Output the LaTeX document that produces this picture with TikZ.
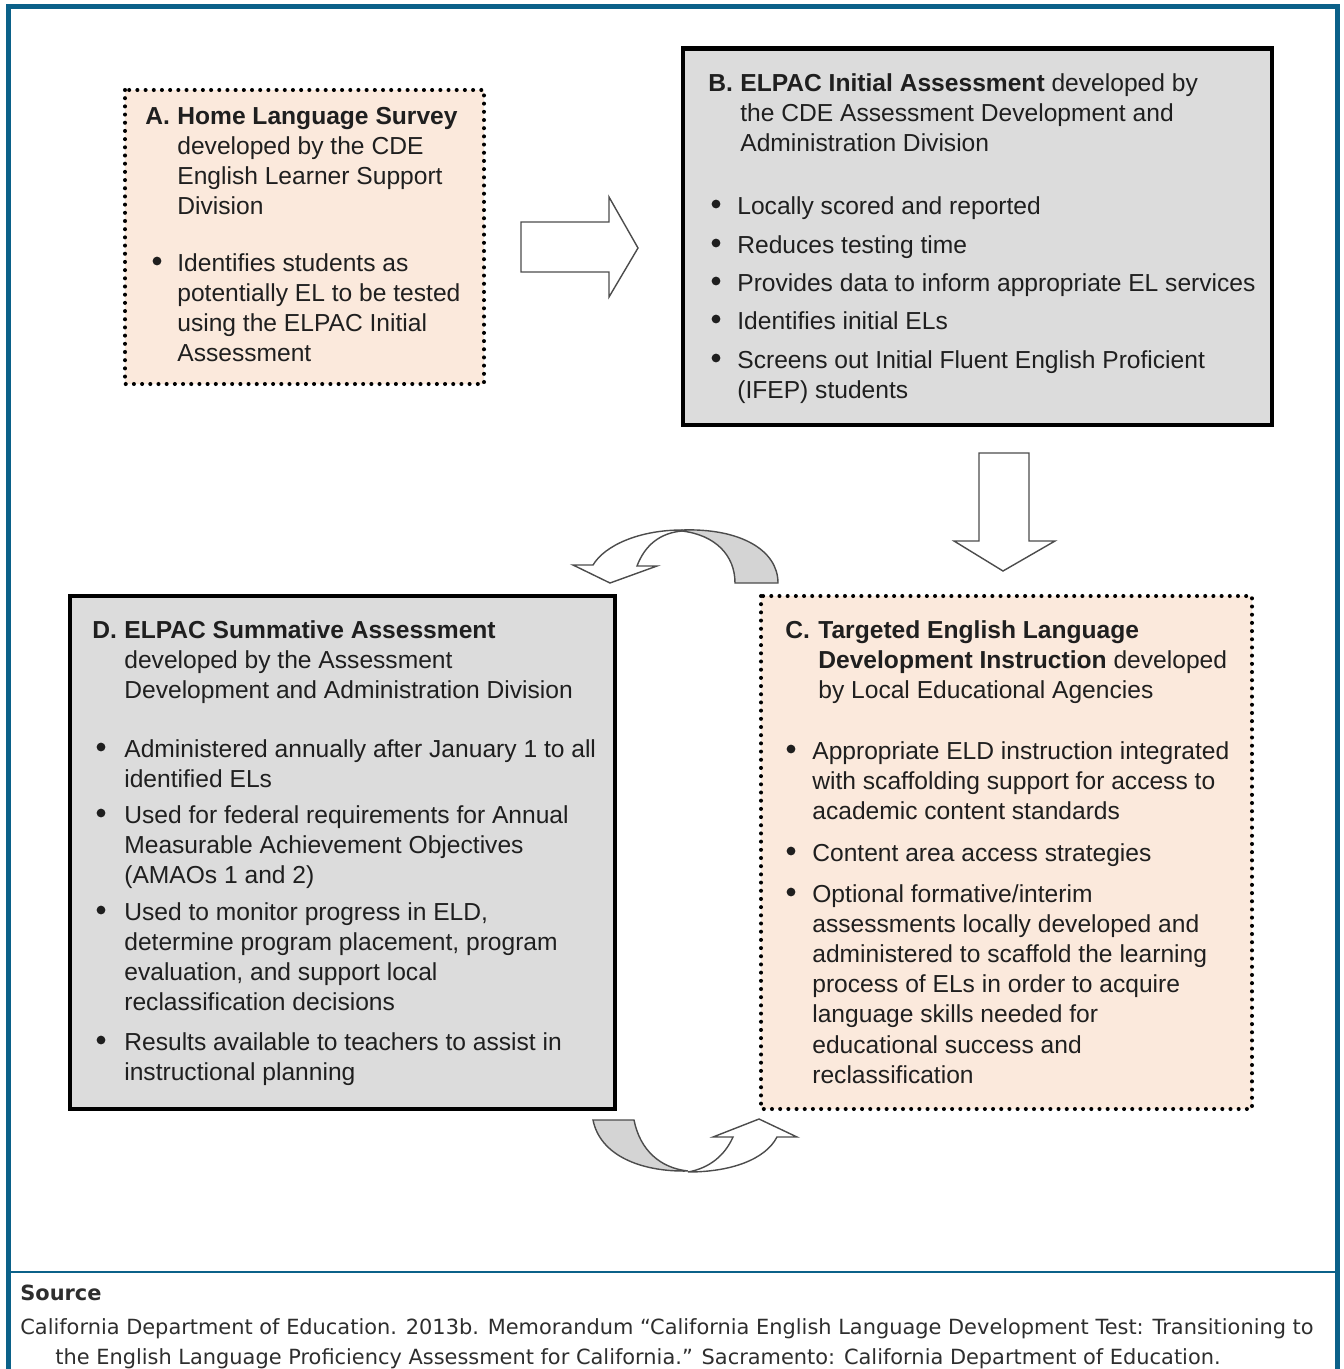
\documentclass[tikz,border=0pt]{standalone}
\usepackage{fontspec}
\setmainfont{Liberation Sans}
\newfontfamily\srcfont{DejaVu Sans}
\usepackage{tikz}
\usetikzlibrary{calc}
\definecolor{frameblue}{RGB}{11,97,137}
\definecolor{peach}{RGB}{251,233,220}
\definecolor{boxgray}{RGB}{220,220,220}
\definecolor{backgray}{RGB}{212,212,212}
\newcommand{\rows}[1]{\begin{tabular}[t]{@{}l@{}}#1\end{tabular}}
\tikzstyle{dotbox}=[fill=peach, line width=2.3pt, dash pattern=on 0pt off 4.66pt, line cap=round]
\tikzstyle{solidbox}=[fill=boxgray, line width=2.45pt]
\tikzstyle{blockarrow}=[draw=black!70, line width=0.8pt, fill=white, line join=miter]
\tikzstyle{txt}=[anchor=base west, inner sep=0pt, text=black!88, font=\fontsize{14}{17.2}\selectfont]
\tikzstyle{bul}=[circle, fill=black!88, inner sep=0pt, minimum size=5pt]
\tikzstyle{src}=[anchor=base west, inner sep=0pt, text=black!82, font=\srcfont\fontsize{11.9}{17}\selectfont]

\begin{document}
\begin{tikzpicture}[x=0.02cm, y=-0.02cm]
\useasboundingbox (0,0) rectangle (1343,1369);

% frame
\draw[frameblue, line width=2.85pt] (8.5,1369) -- (8.5,6.5) -- (1337,6.5) -- (1337,1369);
\draw[frameblue, line width=1.3pt] (8.5,1272) -- (1337,1272);

% A
\draw[dotbox] (125,90) rectangle (484,384);
\node[txt] (labA) at (145,124) {\textbf{A.}};
\node[txt] (headA) at (177,124) {\rows{\textbf{Home Language Survey}\\developed by the CDE\\English Learner Support\\Division}};
\node[bul] (bulA1) at (157,261) {};
\node[txt] (itemA1) at (177,271) {\rows{Identifies students as\\potentially EL to be tested\\using the ELPAC Initial\\Assessment}};

% arrow A -> B
\draw[blockarrow] (521,222) -- (609,222) -- (609,197) -- (638,248) -- (609,297) -- (609,272) -- (521,272) -- cycle;

% B
\draw[solidbox] (683,48.5) rectangle (1272,425);
\node[txt] (labB) at (708,91) {\textbf{B.}};
\node[txt] (headB) at (740,91) {\rows{\textbf{ELPAC Initial Assessment} developed by\\the CDE Assessment Development and\\Administration Division}};
\node[bul] (bulB1) at (716,204) {};
\node[txt] (itemB1) at (737,214) {Locally scored and reported};
\node[bul] (bulB2) at (716,243) {};
\node[txt] (itemB2) at (737,253) {Reduces testing time};
\node[bul] (bulB3) at (716,281) {};
\node[txt] (itemB3) at (737,291) {Provides data to inform appropriate EL services};
\node[bul] (bulB4) at (716,319) {};
\node[txt] (itemB4) at (737,329) {Identifies initial ELs};
\node[bul] (bulB5) at (716,358) {};
\node[txt] (itemB5) at (737,368) {\rows{Screens out Initial Fluent English Proficient\\(IFEP) students}};

% arrow B -> C
\draw[blockarrow] (979,453) -- (1029,453) -- (1029,541) -- (1055,541) -- (1003,571) -- (954,541) -- (979,541) -- cycle;

% C
\draw[dotbox] (761,596) rectangle (1252,1109);
\node[txt] (labC) at (785,638) {\textbf{C.}};
\node[txt] (headC) at (818,638) {\rows{\textbf{Targeted English Language}\\\textbf{Development Instruction} developed\\by Local Educational Agencies}};
\node[bul] (bulC1) at (791,749) {};
\node[txt] (itemC1) at (812,759) {\rows{Appropriate ELD instruction integrated\\with scaffolding support for access to\\academic content standards}};
\node[bul] (bulC2) at (791,851) {};
\node[txt] (itemC2) at (812,861) {Content area access strategies};
\node[bul] (bulC3) at (791,892) {};
\node[txt] (itemC3) at (812,902) {\rows{Optional formative/interim\\assessments locally developed and\\administered to scaffold the learning\\process of ELs in order to acquire\\language skills needed for\\educational success and\\reclassification}};

% D
\draw[solidbox] (70,596) rectangle (615,1109);
\node[txt] (labD) at (92,638) {\textbf{D.}};
\node[txt] (headD) at (124,638) {\rows{\textbf{ELPAC Summative Assessment}\\developed by the Assessment\\Development and Administration Division}};
\node[bul] (bulD1) at (101,747) {};
\node[txt] (itemD1) at (124,757) {\rows{Administered annually after January 1 to all\\identified ELs}};
\node[bul] (bulD2) at (101,813) {};
\node[txt] (itemD2) at (124,823) {\rows{Used for federal requirements for Annual\\Measurable Achievement Objectives\\(AMAOs 1 and 2)}};
\node[bul] (bulD3) at (101,910) {};
\node[txt] (itemD3) at (124,920) {\rows{Used to monitor progress in ELD,\\determine program placement, program\\evaluation, and support local\\reclassification decisions}};
\node[bul] (bulD4) at (101,1040) {};
\node[txt] (itemD4) at (124,1050) {\rows{Results available to teachers to assist in\\instructional planning}};

% curved arrow C -> D (top)
\draw[blockarrow, fill=backgray] (682,530) .. controls (740,528) and (778,550) .. (778,583) -- (735,583) .. controls (735,555) and (715,535) .. (682,531) -- cycle;
\draw[blockarrow] (682,530) .. controls (640,530) and (605,545) .. (593,565) -- (573,565) -- (610,583) -- (657,566) -- (637,566) .. controls (645,545) and (660,533) .. (682,531) -- cycle;

% curved arrow D -> C (bottom)
\draw[blockarrow, fill=backgray] (593,1120) -- (634,1120) .. controls (640,1150) and (660,1168) .. (688,1171) .. controls (640,1172) and (600,1155) .. (593,1120) -- cycle;
\draw[blockarrow] (688,1172) .. controls (730,1172) and (765,1160) .. (777,1137) -- (797,1137) -- (759,1119) -- (713,1137) -- (733,1137) .. controls (725,1155) and (710,1168) .. (688,1172) -- cycle;

% source
\node[src, font=\srcfont\bfseries\fontsize{11.9}{17}\selectfont] (srcHead) at (20,1300) {Source};
\node[src] (srcLine1) at (20,1334) {California Department of Education. 2013b. Memorandum “California English Language Development Test: Transitioning to};
\node[src] (srcLine2) at (55,1364) {the English Language Proficiency Assessment for California.” Sacramento: California Department of Education.};

\end{tikzpicture}
\end{document}
